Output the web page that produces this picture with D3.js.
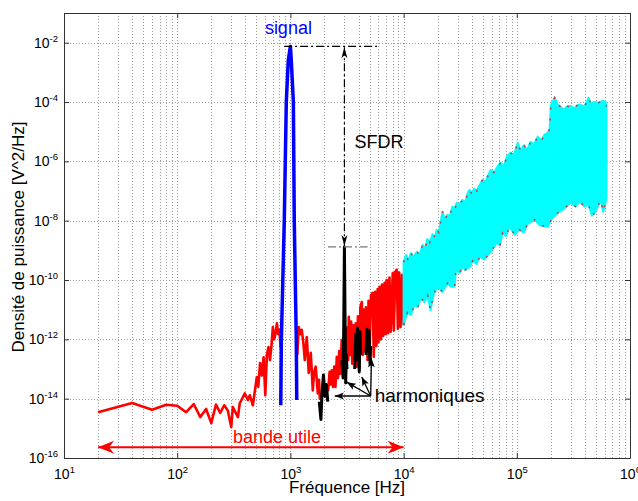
<!DOCTYPE html>
<html>
<head>
<meta charset="utf-8">
<script src="https://d3js.org/d3.v7.min.js"></script>
<style>
  body { margin: 0; background: #fff; }
  svg { display: block; font-family: "Liberation Sans", Arial, sans-serif; }
</style>
</head>
<body>
<svg id="chart" width="638" height="501"></svg>
<script>
// ticks
const xTickExp = [1, 2, 3, 4, 5, 6];
const yTickExp = [-16, -14, -12, -10, -8, -6, -4, -2];

// bruit dans la bande utile (rouge), null = coupure sous le signal
const redFreq = [20, 40, 60, 80, 100, 120, 140, 160, 180, 200, 220, 240, 260, 280, 300, 310, 344, 357, 396, 421, 438, 466,
  505, 520, 540, 560, 580, 600, 620, 640, 660, 680, 700, 720, 740, 760, 780, 800, 820, 830,
  1150, 1186, 1220, 1259, 1300, 1340, 1396, 1452, 1514, 1577, 1620, 1675, 1746, 1790, 1820,
  2160, 2220, 2280, 2320, 2380, 2440, 2500, 2570, 2630, 2700, 2760, 2840, 2900, 2980, 3100, 3180, 3240, 3280,
  3360, 3440, 3520, 3600, 3700, 3780, 3860, 3950, 4050, 4150, 4270, 4350, 4450, 4550, 4650, 4720, 4800, 4900,
  5000, 5150, 5330, 5450, 5600, 5750, 5900, 6000, 6140, 6300, 6450, 6600, 6800, 6950, 7090, 7300, 7500, 7700,
  8020, 8200, 8450, 8690, 8900, 9150, 9400, 9700, 10000];
const redPsd = [3.5e-15, 7.2e-15, 4.2e-15, 6.2e-15, 5.8e-15, 3.5e-15, 6.6e-15, 2.4e-15, 4.5e-15, 1.5e-15, 6.3e-15, 3.3e-15, 6e-15, 4e-15, 1.1e-15, 5.2e-15, 2.4e-15, 7e-15, 1.5e-14, 9e-15, 1.3e-14, 6e-15,
  5.4e-14, 2.5e-14, 1.6e-13, 6e-14, 2.5e-13, 1.3e-14, 3e-13, 5.5e-13, 2e-13, 6e-13, 2.6e-12, 1e-12, 1.6e-12, 3.5e-12, 1.5e-12, 2.1e-12, 5e-13, null,
  3e-13, 2.6e-12, 1.5e-12, 2.1e-12, 8e-13, 2e-13, 1.2e-12, 7.4e-14, 3.5e-13, 1.9e-14, 8e-14, 1.2e-13, 1.5e-14, 4.3e-14, 1e-14,
  2e-14, 8e-14, 3e-14, 9e-14, 2.5e-14, 1.2e-13, 2.5e-14, 2.6e-13, 5e-14, 4e-13, 7e-14, 9.5e-13, 1.5e-13, 5e-13, 2e-13, 2.5e-12, 2e-13, 5.7e-12,
  3e-13, 4e-12, 1.5e-13, 3e-12, 2e-13, 3.5e-12, 1.2e-13, 6e-12, 9e-14, 1.2e-11, 1.8e-11, 3e-13, 1e-11, 4e-13, 1.2e-11, 7.9e-12, 2e-13, 2e-11,
  3e-13, 3e-11, 3.7e-11, 2.6e-13, 4e-11, 6e-13, 5e-11, 8e-13, 5.9e-11, 1e-12, 7e-11, 1.3e-12, 8e-11, 1.5e-12, 1e-10, 1.6e-12, 1.2e-10, 1.8e-12,
  1.7e-10, 2e-12, 1.9e-10, 2.2e-10, 2.3e-12, 1.8e-10, 2.6e-12, 1.5e-10, 3e-12];

// signal (bleu)
const sigFreq = [822, 832, 857, 883, 920, 958, 1000, 1018, 1062, 1082, 1104, 1127, 1138];
const sigPsd = [6e-15, 9.5e-13, 1e-10, 1e-8, 1e-4, 2.6e-3, 7.5e-3, 2.6e-3, 1e-4, 1e-8, 1e-10, 9.5e-13, 9e-15];

// harmoniques (noir)
const h2Freq = [1800, 1860, 1900, 1960, 2020, 2080, 2140];
const h2Psd = [8e-15, 2e-15, 1.5e-14, 6.3e-14, 1.2e-14, 3e-14, 8e-15];
const h3Freq = [2850, 2920, 2960, 3000, 3040, 3080, 3120, 3160];
const h3Psd = [2e-13, 5e-14, 3e-12, 1.3e-9, 5e-12, 3.4e-14, 3e-13, 1e-13];
const h4Freq = [3700, 3780, 3850, 3920, 4000, 4060, 4120, 4180];
const h4Psd = [1e-13, 1.5e-12, 2e-13, 2.4e-12, 1e-12, 8e-14, 1.8e-12, 3e-13];
const h5Freq = [4650, 4750, 4850, 4950, 5050, 5120];
const h5Psd = [3e-13, 2.2e-12, 4e-13, 2e-12, 1.5e-13, 6e-13];

// bruit hors bande (cyan) : enveloppes haute et basse
const cyanUpFreq = [1.0e4, 1.05e4, 1.1e4, 1.16e4, 1.22e4, 1.31e4, 1.38e4, 1.47e4, 1.55e4, 1.62e4, 1.7e4, 1.8e4, 1.9e4, 1.96e4,
  2.05e4, 2.15e4, 2.21e4, 2.3e4, 2.45e4, 2.55e4, 2.7e4, 2.85e4, 2.94e4, 3.1e4, 3.32e4, 3.5e4, 3.7e4, 3.83e4, 4.0e4, 4.2e4,
  4.42e4, 4.7e4, 4.99e4, 5.3e4, 5.6e4, 5.87e4, 6.3e4, 6.8e4, 7.2e4, 7.7e4, 8.2e4, 8.8e4, 9.4e4, 1.02e5, 1.08e5, 1.15e5,
  1.24e5, 1.32e5, 1.42e5, 1.53e5, 1.65e5, 1.76e5, 1.87e5, 1.95e5, 2.0e5, 2.16e5, 2.3e5, 2.44e5, 2.6e5, 2.75e5, 2.99e5,
  3.2e5, 3.45e5, 3.66e5, 3.9e5, 4.1e5, 4.3e5, 4.5e5, 4.86e5, 5.3e5, 5.7e5, 6.08e5, 6.2e5];
const cyanUp = [4e-10, 7e-10, 4.5e-10, 8e-10, 6e-10, 9e-10, 7e-10, 1.5e-9, 1.1e-9, 2.4e-9, 1.8e-9, 3.5e-9, 2.8e-9, 4.9e-9,
  4e-9, 1.2e-8, 2.0e-8, 1.1e-8, 1.6e-8, 1.35e-8, 3e-8, 2.5e-8, 4.0e-8, 3.5e-8, 5.0e-8, 4.2e-8, 9e-8, 1.1e-7, 8e-8, 1.2e-7,
  1.0e-7, 1.6e-7, 2.4e-7, 2e-7, 3.5e-7, 5.1e-7, 4.2e-7, 7e-7, 8.9e-7, 7e-7, 1.5e-6, 1.95e-6, 1.6e-6, 4.2e-6, 2.2e-6, 3.5e-6,
  2.45e-6, 4.5e-6, 3.8e-6, 6.8e-6, 5e-6, 8e-6, 9.1e-6, 1.2e-5, 8e-5, 1.4e-4, 8e-5, 6.9e-5, 5.5e-5, 7e-5, 7.4e-5,
  6e-5, 8e-5, 8.1e-5, 7e-5, 9e-5, 1.4e-4, 9e-5, 1.0e-4, 9.5e-5, 1.1e-4, 1.0e-4, 7e-5];
const cyanLowFreq = [1.0e4, 1.08e4, 1.16e4, 1.25e4, 1.33e4, 1.42e4, 1.53e4, 1.63e4, 1.73e4, 1.85e4, 2.0e4, 2.2e4, 2.45e4, 2.6e4,
  2.82e4, 2.9e4, 3.13e4, 3.35e4, 3.5e4, 3.83e4, 4.1e4, 4.4e4, 4.7e4, 5.2e4, 5.75e4, 6.2e4, 6.64e4, 7.1e4, 7.5e4, 8.0e4,
  8.63e4, 9.6e4, 1.05e5, 1.15e5, 1.25e5, 1.44e5, 1.6e5, 1.87e5, 2.05e5, 2.29e5, 2.6e5, 2.99e5, 3.3e5, 3.6e5, 3.96e5,
  4.3e5, 4.6e5, 4.86e5, 5.2e5, 5.5e5, 5.8e5, 6.08e5, 6.2e5];
const cyanLow = [3.1e-12, 8e-12, 6.6e-12, 1.5e-11, 1.2e-11, 2.5e-11, 1.8e-11, 3e-11, 9.8e-12, 3.5e-11, 5.9e-11, 4e-11, 7.9e-11, 6e-11,
  5.9e-11, 2.2e-10, 1.74e-10, 3e-10, 2.2e-10, 2.75e-10, 4.5e-10, 3.5e-10, 6.0e-10, 5e-10, 8.1e-10, 1.2e-9, 1.8e-9, 1.5e-9, 3.9e-9, 3e-9,
  6.2e-9, 3.3e-9, 5e-9, 4e-9, 8e-9, 1.07e-8, 7e-9, 6.2e-9, 1.2e-8, 1.8e-8, 2.5e-8, 4.0e-8, 3e-8, 4.5e-8, 2.95e-8,
  3.5e-8, 1.5e-8, 1.8e-8, 3e-8, 5.0e-8, 2e-8, 4.0e-8, 6e-8];

// annotations
const sigPeak = 7.5e-3;
const h3Peak = 1.3e-9;
const bandEdges = [20, 1e4];
const harmSource = [5120, 1.23e-14];
const harmTargets = [[2466, 1.23e-14], [3150, 3.6e-14], [4270, 5.4e-14], [5200, 2.3e-13]];

const svg = d3.select('#chart');
const x = d3.scaleLog().domain([10, 1e6]).range([64, 630]);
const y = d3.scaleLog().domain([1e-16, 1e-1]).range([458, 13]);
const crisp = v => Math.round(v) + 0.5;

// markers
const defs = svg.append('defs');
function marker(id, d, color, w) {
  defs.append('marker')
    .attr('id', id)
    .attr('viewBox', `${-w} ${-w / 2} ${w} ${w}`)
    .attr('refX', 0).attr('refY', 0)
    .attr('markerWidth', w).attr('markerHeight', w)
    .attr('markerUnits', 'userSpaceOnUse')
    .attr('orient', 'auto-start-reverse')
    .append('path').attr('d', d).attr('fill', color);
}
marker('arSfdr', 'M0,0 L-11,-3 L-8,0 L-11,3 Z', '#000', 12);
marker('arHarm', 'M0,0 L-9,-3.5 L-7,0 L-9,3.5 Z', '#000', 10);
marker('arBand', 'M0,0 L-16,-6.5 L-11,0 L-16,6.5 Z', '#ff0000', 18);

// grille
const xGrid = [];
for (let d = 1; d <= 5; d++) for (let k = 1; k <= 9; k++) xGrid.push(k * Math.pow(10, d));
xGrid.push(1e6);
const grid = svg.append('g').attr('stroke', '#9a9a9a').attr('stroke-dasharray', '1,2').attr('stroke-width', 1);
grid.selectAll('line.gx').data(xGrid).join('line')
  .attr('class', 'gx')
  .attr('x1', d => crisp(x(d))).attr('x2', d => crisp(x(d)))
  .attr('y1', 13).attr('y2', 458);
grid.selectAll('line.gy').data(yTickExp.map(e => Math.pow(10, e))).join('line')
  .attr('class', 'gy')
  .attr('x1', 64).attr('x2', 630)
  .attr('y1', d => crisp(y(d))).attr('y2', d => crisp(y(d)));

const line = d3.line()
  .defined(d => d[1] !== null)
  .x(d => x(d[0])).y(d => y(d[1]));
const zip = (a, b) => a.map((v, i) => [v, b[i]]);

// rouge
svg.append('path')
  .attr('d', line(zip(redFreq, redPsd)))
  .attr('fill', 'none').attr('stroke', '#ff0000').attr('stroke-width', 2.6)
  .attr('stroke-linejoin', 'round');

// cyan
const upPts = zip(cyanUpFreq, cyanUp);
const lowPts = zip(cyanLowFreq, cyanLow);
svg.append('path')
  .attr('d', line(upPts.concat(lowPts.slice().reverse())) + 'Z')
  .attr('fill', '#00ffff').attr('stroke', '#00ffff').attr('stroke-width', 2)
  .attr('stroke-linejoin', 'round');
[upPts, lowPts].forEach(pts => {
  svg.append('path')
    .attr('d', line(pts))
    .attr('fill', 'none').attr('stroke', '#b44848').attr('stroke-width', 1.6)
    .attr('stroke-dasharray', '2,9');
});

// signal
svg.append('path')
  .attr('d', line(zip(sigFreq, sigPsd)))
  .attr('fill', 'none').attr('stroke', '#0000ff').attr('stroke-width', 3.5)
  .attr('stroke-linejoin', 'round');

// harmoniques
[[h2Freq, h2Psd], [h3Freq, h3Psd], [h4Freq, h4Psd], [h5Freq, h5Psd]].forEach(([f, p]) => {
  svg.append('path')
    .attr('d', line(zip(f, p)))
    .attr('fill', 'none').attr('stroke', '#000').attr('stroke-width', 3)
    .attr('stroke-linejoin', 'round');
});

// axes
function fmtTicks(g, dy) {
  g.selectAll('.tick text').each(function (d) {
    const t = d3.select(this).text(null);
    t.append('tspan').text('10');
    t.append('tspan').attr('font-size', 9.5).attr('dy', dy).text(Math.round(Math.log10(d)));
  });
}
const styleAxis = g => {
  g.select('.domain').attr('stroke', '#333');
  g.selectAll('.tick line').attr('stroke', '#333');
  g.selectAll('.tick text').attr('font-size', 14).attr('fill', '#000')
    .attr('font-family', '"Liberation Sans", Arial, sans-serif');
};
const xVals = xTickExp.map(e => Math.pow(10, e));
const yVals = yTickExp.map(e => Math.pow(10, e));

svg.append('g').attr('transform', 'translate(0,458)')
  .call(d3.axisBottom(x).tickValues(xVals).tickSizeInner(-5).tickSizeOuter(0).tickPadding(11))
  .call(styleAxis).call(g => fmtTicks(g, -6));
svg.append('g').attr('transform', 'translate(0,13)')
  .call(d3.axisTop(x).tickValues(xVals).tickSizeInner(-5).tickSizeOuter(0).tickFormat(''))
  .call(styleAxis);
svg.append('g').attr('transform', 'translate(64,0)')
  .call(d3.axisLeft(y).tickValues(yVals).tickSizeInner(-5).tickSizeOuter(0).tickPadding(6))
  .call(styleAxis).call(g => fmtTicks(g, -6));
svg.append('g').attr('transform', 'translate(630,0)')
  .call(d3.axisRight(y).tickValues(yVals).tickSizeInner(-5).tickSizeOuter(0).tickFormat(''))
  .call(styleAxis);

// titres des axes
svg.append('text')
  .attr('x', 347).attr('y', 493)
  .attr('text-anchor', 'middle').attr('font-size', 17)
  .text('Fréquence [Hz]');
svg.append('text')
  .attr('transform', 'translate(24,237) rotate(-90)')
  .attr('text-anchor', 'middle').attr('font-size', 17)
  .text('Densité de puissance [V^2/Hz]');

// annotations SFDR
const dashDot = '8,3,2,3';
svg.append('line')
  .attr('x1', x(880)).attr('x2', x(6200))
  .attr('y1', y(sigPeak)).attr('y2', y(sigPeak))
  .attr('stroke', '#000').attr('stroke-width', 1.2).attr('stroke-dasharray', dashDot);
svg.append('line')
  .attr('x1', x(2150)).attr('x2', x(4800))
  .attr('y1', y(h3Peak)).attr('y2', y(h3Peak))
  .attr('stroke', '#777').attr('stroke-width', 1.2).attr('stroke-dasharray', dashDot);
svg.append('line')
  .attr('x1', x(3000)).attr('x2', x(3000))
  .attr('y1', y(sigPeak) + 1).attr('y2', y(h3Peak) - 1)
  .attr('stroke', '#000').attr('stroke-width', 1.2).attr('stroke-dasharray', dashDot)
  .attr('marker-start', 'url(#arSfdr)').attr('marker-end', 'url(#arSfdr)');
svg.append('text')
  .attr('x', x(3000) + 10).attr('y', 148)
  .attr('font-size', 18).text('SFDR');

svg.append('text')
  .attr('x', x(1000) - 2).attr('y', y(sigPeak) - 12)
  .attr('text-anchor', 'middle').attr('font-size', 18).attr('fill', '#0000ff')
  .text('signal');

// harmoniques
harmTargets.forEach(t => {
  svg.append('line')
    .attr('x1', x(harmSource[0])).attr('y1', y(harmSource[1]))
    .attr('x2', x(t[0])).attr('y2', y(t[1]))
    .attr('stroke', '#000').attr('stroke-width', 1.3)
    .attr('marker-end', 'url(#arHarm)');
});
svg.append('text')
  .attr('x', x(harmSource[0]) + 4).attr('y', y(harmSource[1]) + 6)
  .attr('font-size', 19).text('harmoniques');

// bande utile
const bandY = y(2.3e-16);
svg.append('line')
  .attr('x1', x(bandEdges[0])).attr('x2', x(bandEdges[1]))
  .attr('y1', bandY).attr('y2', bandY)
  .attr('stroke', '#ff0000').attr('stroke-width', 2)
  .attr('marker-start', 'url(#arBand)').attr('marker-end', 'url(#arBand)');
svg.append('text')
  .attr('x', 277).attr('y', bandY - 4)
  .attr('text-anchor', 'middle').attr('font-size', 18).attr('fill', '#ff0000')
  .text('bande utile');
</script>
</body>
</html>
